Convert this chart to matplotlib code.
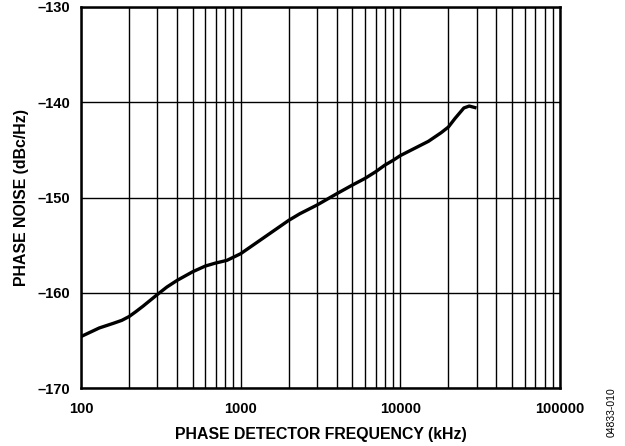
import matplotlib
matplotlib.use("Agg")
import matplotlib.pyplot as plt
from matplotlib.ticker import FixedLocator, NullFormatter, NullLocator

freq_khz = [100, 130, 160, 180, 200, 220, 245, 300, 345, 400, 500, 600, 690, 820, 1000,
            1320, 2000, 2350, 3000, 4000, 5000, 6000, 7000, 8000, 9000, 10000,
            15000, 18000, 20000, 22000, 25000, 27000, 30000]
phase_noise = [-164.6, -163.7, -163.2, -162.9, -162.5, -162.0, -161.4, -160.2, -159.4,
               -158.7, -157.8, -157.2, -156.9, -156.6, -155.9, -154.5, -152.4,
               -151.7, -150.8, -149.6, -148.7, -148.0, -147.3, -146.6, -146.1,
               -145.6, -144.1, -143.2, -142.6, -141.7, -140.6, -140.4, -140.6]

x_ticks = [100, 1000, 10000, 100000]
x_tick_labels = ["100", "1000", "10000", "100000"]
y_ticks = [-170, -160, -150, -140, -130]
y_tick_labels = ["\u2013170", "\u2013160", "\u2013150", "\u2013140", "\u2013130"]

plt.rcParams['font.family'] = ['Liberation Sans', 'DejaVu Sans']

fig = plt.figure(figsize=(6.25, 4.46), dpi=100)
ax = fig.add_axes([81/625, 1-388/446, (560-81)/625, (388-7)/446])

ax.plot(freq_khz, phase_noise, color='black', lw=2.4, solid_capstyle='butt',
        solid_joinstyle='round', zorder=3)

ax.set_xscale('log')
ax.set_xlim(100, 100000)
ax.set_ylim(-170, -130)

ax.xaxis.set_major_locator(FixedLocator(x_ticks))
ax.set_xticklabels(x_tick_labels, fontsize=10.5, fontweight='bold')
minors = [m * 10**e for e in range(2, 5) for m in range(2, 10)]
ax.xaxis.set_minor_locator(FixedLocator(minors))
ax.xaxis.set_minor_formatter(NullFormatter())
ax.set_yticks(y_ticks)
ax.set_yticklabels(y_tick_labels, fontsize=10.5, fontweight='bold')
ax.yaxis.set_minor_locator(NullLocator())

ax.grid(True, which='both', axis='x', color='black', lw=1.0)
ax.grid(True, which='major', axis='y', color='black', lw=1.0)
ax.tick_params(axis='x', which='both', length=0, pad=10)
ax.tick_params(axis='y', which='both', length=0, pad=8)

for s in ax.spines.values():
    s.set_linewidth(1.8)

ax.set_xlabel("PHASE DETECTOR FREQUENCY (kHz)", fontsize=11.4, fontweight='bold', labelpad=8)
ax.set_ylabel("PHASE NOISE (dBc/Hz)", fontsize=11.4, fontweight='bold', labelpad=6)

fig.text(612/625, 1-412/446, "04833-010", rotation=90, fontsize=7.5, ha='center', va='center')

fig.savefig("out.png", dpi=100)
